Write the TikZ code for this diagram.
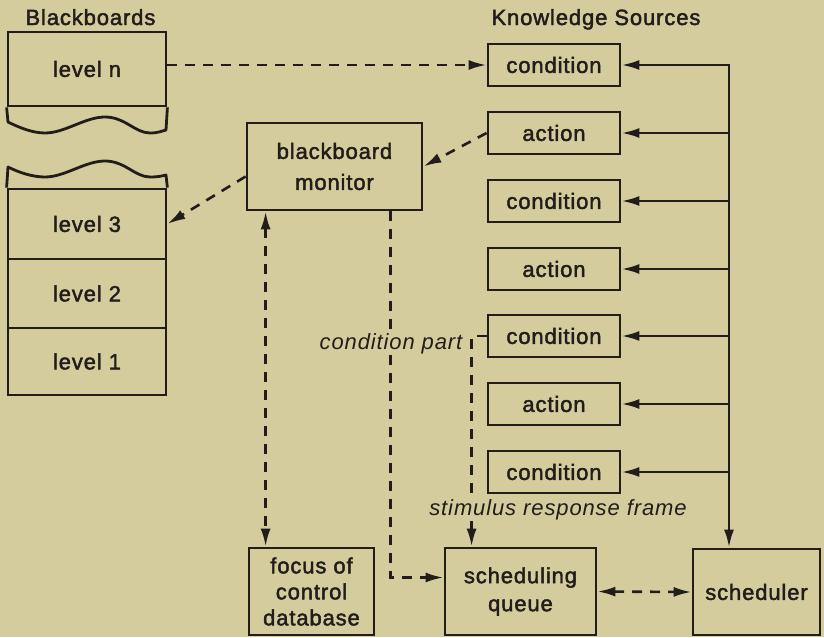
\documentclass[tikz,border=0pt]{standalone}
\usepackage{fontspec}
\setmainfont{Liberation Sans}[LetterSpace=4, FakeBold=2]
\newfontfamily\tagfont{Liberation Sans}[LetterSpace=4]
\usetikzlibrary{arrows.meta,calc}
\definecolor{paper}{RGB}{213,204,158}
\definecolor{ink}{RGB}{34,29,26}

\begin{document}
\begin{tikzpicture}[x=1pt,y=-1pt,
  every node/.style={text=ink, font=\fontsize{22}{25}\selectfont},
  box/.style={draw=ink, line width=2.8pt, rectangle, inner sep=0pt, align=center},
  ksbox/.style={box, minimum width=132pt, minimum height=42pt},
  lvbox/.style={box, minimum width=158pt},
  wire/.style={draw=ink, line width=2.6pt},
  dashwire/.style={wire, dash pattern=on 10pt off 8pt},
  tipend/.style={-{Latex[length=18pt,width=10pt]}},
  tipboth/.style={{Latex[length=18pt,width=10pt]}-{Latex[length=18pt,width=10pt]}},
  tag/.style={font=\fontsize{22}{25}\tagfont\itshape, fill=paper, inner sep=1pt}
]
% canvas
\fill[paper] (0,0) rectangle (824,637);
\useasboundingbox (0,0) rectangle (824,637);

% titles
\node[anchor=base west] (tbb) at (22,25) {Blackboards};
\node[anchor=base west] (tks) at (488,25) {Knowledge Sources};

% blackboard levels
\node[lvbox, minimum height=74pt] (lvn) at (87,69) {level n};
\node[lvbox, minimum height=70pt] (lv3) at (87,224) {level 3};
\node[lvbox, minimum height=69pt] (lv2) at (87,293.5) {level 2};
\node[lvbox, minimum height=67pt] (lv1) at (87,361.5) {level 1};

% torn edges of the blackboard stack
\draw[wire, line width=2.8pt, line join=round] (lvn.south west) -- (8,122)
  .. controls (20,128) and (33,133) .. (45,133)
  .. controls (65,133) and (85,117) .. (105,117)
  .. controls (125,117) and (135,133) .. (150,133)
  .. controls (158,133) and (162,131) .. (166,130) -- (lvn.south east);
\draw[wire, line width=2.8pt, line join=round] (lv3.north west) -- (8,167)
  .. controls (20,173) and (33,177) .. (45,177)
  .. controls (65,177) and (85,161) .. (105,161)
  .. controls (125,161) and (135,177) .. (150,177)
  .. controls (158,177) and (162,176) .. (166,175) -- (lv3.north east);

% monitor and lower row
\node[box, minimum width=175pt, minimum height=87pt, font=\fontsize{22}{31}\selectfont] (mon) at (334.5,166.5) {blackboard\\monitor};
\node[box, minimum width=125pt, minimum height=87pt, font=\fontsize{22}{26}\selectfont] (foc) at (311.5,591.5) {focus of\\control\\database};
\node[box, minimum width=151pt, minimum height=87pt, font=\fontsize{22}{28}\selectfont] (sq) at (520.5,591.5) {scheduling\\queue};
\node[box, minimum width=127pt, minimum height=86pt] (sch) at (756.5,592) {scheduler};

% knowledge sources
\node[ksbox] (c1) at (554,65) {condition};
\node[ksbox] (a1) at (554,133) {action};
\node[ksbox] (c2) at (554,201) {condition};
\node[ksbox] (a2) at (554,269) {action};
\node[ksbox] (c3) at (554,336) {condition};
\node[ksbox] (a3) at (554,404) {action};
\node[ksbox] (c4) at (554,472) {condition};

% scheduler bus
\coordinate (bus) at (729,65);
\draw[wire, tipboth] (c1.east) -- (bus) -- (bus |- sch.north);
\foreach \k in {a1,c2,a2,c3,a3,c4}
  \draw[wire, tipend] (bus |- \k.east) -- (\k.east);

% dashed data flows
\draw[dashwire, tipend] (c1.west -| lvn.east) -- (c1.west);
\draw[dashwire, tipend] (a1.west) -- (mon.east);
\draw[dashwire, tipend] ($(mon.west)+(0,10)$) -- (lv3.east);
\draw[dashwire, tipboth] ($(mon.south west)+(20,0)$) -- ($(foc.north west)+(18,0)$);
\draw[dashwire, tipend] ($(mon.south east)+(-33,0)$) |- ($(sq.west)+(0,-14)$);
\draw[dashwire, tipend] (c3.west) -| ($(sq.north west)+(28,0)$);
\draw[dashwire, tipboth] (sq.east) -- (sch.west);

% flow labels
\node[tag] (lcp) at (391,344) {condition part};
\node[tag] (lsr) at (558,510) {stimulus response frame};
\end{tikzpicture}
\end{document}
